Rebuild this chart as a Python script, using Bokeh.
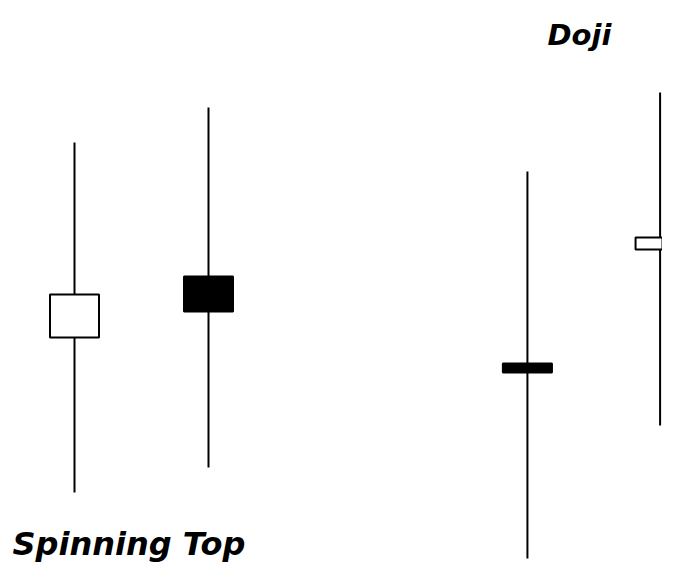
from bokeh.plotting import figure
from bokeh.models import Range1d, Label, ColumnDataSource
from bokeh.embed import file_html
from bokeh.resources import INLINE

# Candle data
x_pos = [1.0, 2.0, 4.38, 5.37]
opens = [244, 305, 218, 332]
closes = [287, 270, 209, 344]
highs = [439, 474, 410, 489]
lows = [89, 114, 23, 156]
colors = ["white" if c > o else "black" for o, c in zip(opens, closes)]
labels = ["Spinning Top", "Doji"]

p = figure(width=662, height=565, output_backend="svg", toolbar_location=None,
           x_range=Range1d(0.4478, 5.388), y_range=Range1d(16, 581),
           min_border=0)
p.axis.visible = False
p.grid.visible = False
p.outline_line_color = None
p.background_fill_color = "white"
p.border_fill_color = "white"

src = ColumnDataSource(dict(x=x_pos, o=opens, c=closes, h=highs, l=lows,
                            top=[max(a, b) for a, b in zip(opens, closes)],
                            bot=[min(a, b) for a, b in zip(opens, closes)],
                            color=colors))

p.segment(x0="x", y0="l", x1="x", y1="h", source=src, line_color="black", line_width=2)
p.vbar(x="x", width=0.366, top="top", bottom="bot", source=src,
       fill_color="color", line_color="black", line_width=2)

p.add_layout(Label(x=12, y=22, x_units="screen", y_units="screen", text=labels[0],
                   text_font="DejaVu Sans", text_font_style="bold italic",
                   text_font_size="32px", text_color="black", text_baseline="alphabetic"))
p.add_layout(Label(x=547, y=531, x_units="screen", y_units="screen", text=labels[1],
                   text_font="DejaVu Sans", text_font_style="bold italic",
                   text_font_size="29px", text_color="black", text_baseline="alphabetic"))

open("out.html", "w").write(file_html(p, INLINE))
